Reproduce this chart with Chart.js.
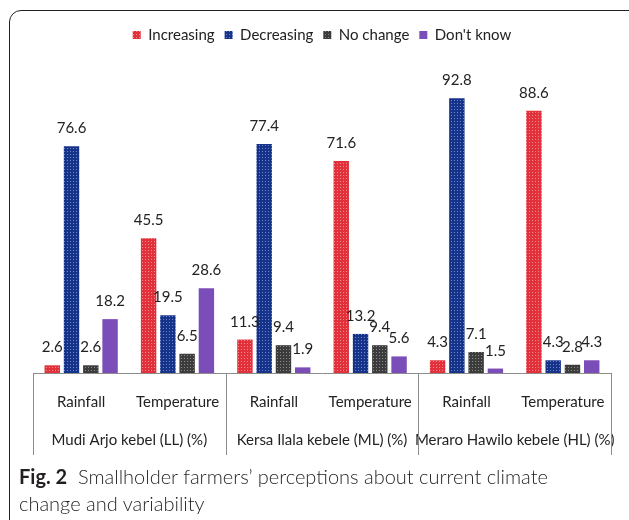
<!DOCTYPE html>
<html>
<head>
<meta charset="utf-8">
<script src="https://cdn.jsdelivr.net/npm/chart.js@4.4.1/dist/chart.umd.min.js"></script>
<style>
  html, body { margin: 0; padding: 0; background: #fff; }
  body { width: 629px; height: 520px; position: relative; overflow: hidden; }
  #wrap { position: absolute; left: 0; top: 0; width: 629px; height: 470px; }
  #frame { position: absolute; left: 9px; top: 10px; width: 640px; height: 560px;
           border: 1.5px solid #222; border-radius: 12px; pointer-events: none; }
  #caption { position: absolute; left: 19px; top: 463px; font-family: Lato, sans-serif;
             font-size: 20px; font-weight: 300; line-height: 27px; color: #231f20; }
  #caption b { font-weight: 700; }
</style>
</head>
<body>
<div id="wrap"><canvas id="chart"></canvas></div>
<div id="frame"></div>
<div id="caption"><b>Fig. 2</b>&nbsp; Smallholder farmers’ perceptions about current climate<br>change and variability</div>
<script>
// 데이터
const categories = ['Rainfall', 'Temperature', 'Rainfall', 'Temperature', 'Rainfall', 'Temperature'];
const groups = ['Mudi Arjo kebel (LL) (%)', 'Kersa Ilala kebele (ML) (%)', 'Meraro Hawilo kebele (HL) (%)'];
const seriesNames = ['Increasing', 'Decreasing', 'No change', "Don't know"];
const increasing = [2.6, 45.5, 11.3, 71.6, 4.3, 88.6];
const decreasing = [76.6, 19.5, 77.4, 13.2, 92.8, 4.3];
const noChange = [2.6, 6.5, 9.4, 9.4, 7.1, 2.8];
const dontKnow = [18.2, 28.6, 1.9, 5.6, 1.5, 4.3];

// 점무늬 패턴
function makePattern(base, dot) {
    const c = document.createElement('canvas');
    c.width = 3; c.height = 3;
    const g = c.getContext('2d');
    g.fillStyle = base;
    g.fillRect(0, 0, 3, 3);
    if (dot) {
        g.fillStyle = dot;
        g.fillRect(1, 1, 1, 1);
    }
    return g.createPattern(c, 'repeat');
}

const redFill = makePattern('#e2313a', '#f48a8c');
const blueFill = makePattern('#16338a', '#6f86cf');
const grayFill = makePattern('#3c3c3c', '#8a8a8a');
const purpleFill = '#7b4db8';

const FONT = 'Lato, "Open Sans", sans-serif';

// 막대 위 값 표시
const valueLabels = {
    id: 'valueLabels',
    afterDatasetsDraw(chart) {
        const ctx = chart.ctx;
        ctx.save();
        ctx.font = '15px ' + FONT;
        ctx.fillStyle = '#222';
        ctx.textAlign = 'center';
        ctx.textBaseline = 'alphabetic';
        chart.data.datasets.forEach((ds, i) => {
            chart.getDatasetMeta(i).data.forEach((bar, j) => {
                ctx.fillText(ds.data[j].toFixed(1), bar.x, bar.y - 13);
            });
        });
        ctx.restore();
    }
};

// 그룹 구분선
const groupLines = {
    id: 'groupLines',
    afterDraw(chart) {
        const x = chart.scales.x;
        const x2 = chart.scales.x2;
        const ctx = chart.ctx;
        const xs = [x.left, x.getPixelForValue(1.5), x.getPixelForValue(3.5), x.right];
        ctx.save();
        ctx.strokeStyle = '#8c8c8c';
        ctx.lineWidth = 1;
        xs.forEach(px => {
            const p = Math.round(px) + 0.5;
            ctx.beginPath();
            ctx.moveTo(p, x.top);
            ctx.lineTo(p, x2.bottom + 6);
            ctx.stroke();
        });
        ctx.restore();
    }
};

// 범례 아래 여백
const legendGap = {
    id: 'legendGap',
    beforeInit(chart) {
        const fit = chart.legend.fit;
        chart.legend.fit = function() {
            fit.bind(chart.legend)();
            this.height += 24.5;
        };
    }
};

new Chart(document.getElementById('chart'), {
    type: 'bar',
    data: {
        labels: categories,
        datasets: [
            { label: seriesNames[0], data: increasing, backgroundColor: redFill },
            { label: seriesNames[1], data: decreasing, backgroundColor: blueFill },
            { label: seriesNames[2], data: noChange, backgroundColor: grayFill },
            { label: seriesNames[3], data: dontKnow, backgroundColor: purpleFill }
        ]
    },
    options: {
        responsive: true,
        maintainAspectRatio: false,
        animation: false,
        categoryPercentage: 0.8,
        barPercentage: 0.8,
        layout: { padding: { top: 17.5, left: 33, right: 18, bottom: 21 } },
        plugins: {
            legend: {
                position: 'top',
                labels: {
                    boxWidth: 8, boxHeight: 8, padding: 10,
                    color: '#222',
                    font: { family: FONT, size: 15 }
                }
            },
            tooltip: { enabled: false }
        },
        scales: {
            y: { display: false, min: 0, max: 100 },
            x: {
                grid: { display: false, drawTicks: false },
                border: { display: true, color: '#8c8c8c' },
                ticks: {
                    padding: 0, color: '#222', maxRotation: 0, autoSkip: false,
                    font: { family: FONT, size: 15, lineHeight: '58px' }
                }
            },
            x2: {
                type: 'category',
                labels: groups,
                position: 'bottom',
                offset: true,
                weight: 1,
                grid: { display: false, drawTicks: false },
                border: { display: false },
                ticks: {
                    padding: 0, color: '#222', maxRotation: 0, minRotation: 0, autoSkip: false,
                    font: { family: FONT, size: 15, lineHeight: '18px' }
                }
            }
        }
    },
    plugins: [valueLabels, groupLines, legendGap]
});
</script>
</body>
</html>
